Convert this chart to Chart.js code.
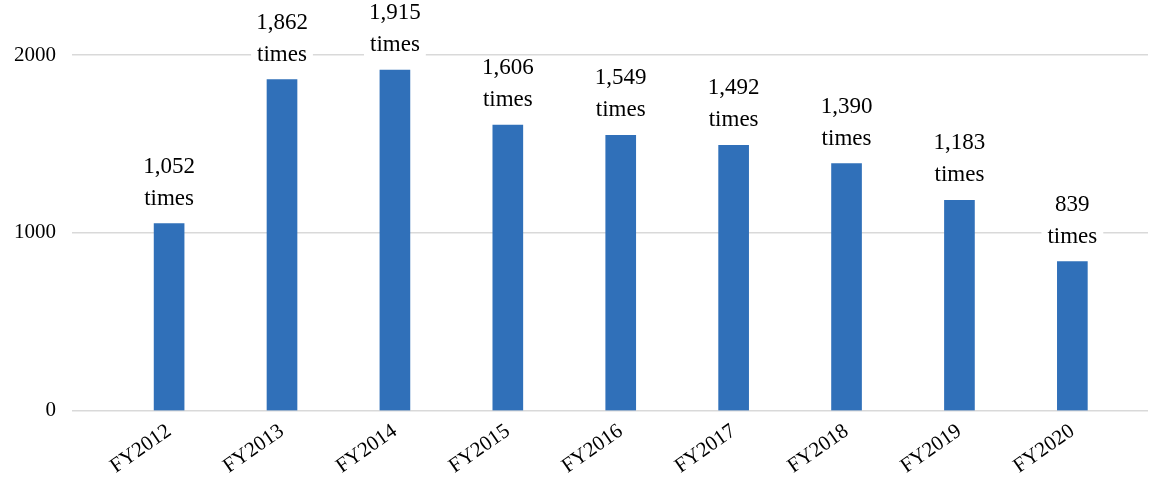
<!DOCTYPE html>
<html>
<head>
<meta charset="utf-8">
<script src="https://cdn.jsdelivr.net/npm/chart.js@4/dist/chart.umd.min.js"></script>
<style>
  html, body { margin: 0; padding: 0; background: #fff; }
  #wrap { width: 1158px; height: 477px; }
</style>
</head>
<body>
<div id="wrap"><canvas id="chart" width="1158" height="477"></canvas></div>
<script>
// ====== DATA ======
const categories = ['FY2012', 'FY2013', 'FY2014', 'FY2015', 'FY2016', 'FY2017', 'FY2018', 'FY2019', 'FY2020'];
const counts     = [1052, 1862, 1915, 1606, 1549, 1492, 1390, 1183, 839];
const yTicks     = [0, 1000, 2000];
const unitText   = 'times';

// ====== STYLE ======
const FONT      = "'Liberation Serif', 'Times New Roman', serif";
const BAR_COLOR = '#3070B9';
const GRID      = '#d9d9d9';

// Draws "1,052 / times" above each bar on a white box
const valueLabels = {
  id: 'valueLabels',
  afterDatasetsDraw(chart) {
    const ctx = chart.ctx;
    const meta = chart.getDatasetMeta(0);
    ctx.save();
    ctx.font = '23px ' + FONT;
    ctx.textAlign = 'center';
    ctx.textBaseline = 'middle';
    meta.data.forEach((bar, i) => {
      const lines = [counts[i].toLocaleString('en-US'), unitText];
      const ys = [bar.y - 57, bar.y - 25];
      lines.forEach((t, k) => {
        const w = ctx.measureText(t).width;
        ctx.fillStyle = '#fff';
        ctx.fillRect(bar.x - w / 2 - 6, ys[k] - 12, w + 12, 24);
      });
      ctx.fillStyle = '#000';
      lines.forEach((t, k) => ctx.fillText(t, bar.x, ys[k]));
    });
    ctx.restore();
  }
};

const points = counts.map((v, i) => ({ x: i, y: v }));

new Chart(document.getElementById('chart'), {
  type: 'bar',
  data: {
    datasets: [{
      data: points,
      backgroundColor: BAR_COLOR,
      barThickness: 30
    }]
  },
  options: {
    responsive: false,
    animation: false,
    layout: { padding: { top: 55, left: -2, right: 10, bottom: -2 } },
    plugins: { legend: { display: false }, tooltip: { enabled: false } },
    scales: {
      x: {
        type: 'linear',
        offset: false,
        min: -0.86,
        max: 8.67,
        grid: { display: false },
        border: { display: false },
        afterBuildTicks: (scale) => { scale.ticks = categories.map((c, i) => ({ value: i })); },
        ticks: {
          autoSkip: false,
          minRotation: 35,
          maxRotation: 35,
          padding: 0,
          color: '#000',
          font: { family: FONT, size: 21 },
          callback: (v) => categories[v]
        }
      },
      y: {
        min: 0,
        max: 2000,
        grid: { color: GRID, lineWidth: 1.5, drawTicks: false },
        border: { display: false },
        afterBuildTicks: (scale) => { scale.ticks = yTicks.map(v => ({ value: v })); },
        ticks: {
          padding: 16,
          color: '#000',
          font: { family: FONT, size: 21 },
          callback: (v) => String(v)
        }
      }
    }
  },
  plugins: [valueLabels]
});
</script>
</body>
</html>
